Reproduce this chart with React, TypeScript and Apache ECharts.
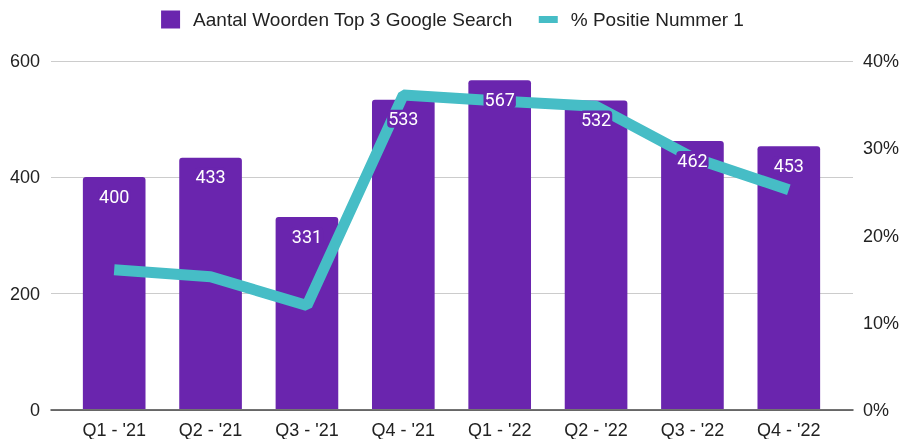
import React, { useEffect, useRef } from "react";
import * as echarts from "echarts";

const categories = ["Q1 - '21", "Q2 - '21", "Q3 - '21", "Q4 - '21", "Q1 - '22", "Q2 - '22", "Q3 - '22", "Q4 - '22"];
const woorden = [400, 433, 331, 533, 567, 532, 462, 453];
const positie1 = [16.0, 15.2, 11.9, 36.1, 35.4, 34.8, 28.9, 25.2];
const leftTicks = { min: 0, max: 600, interval: 200 };
const rightTicks = { min: 0, max: 40, interval: 10 };
const barName = "Aantal Woorden Top 3 Google Search";
const lineName = "% Positie Nummer 1";

const PURPLE = "#6a25ae";
const TEAL = "#46bdc6";
const FONT = "'Liberation Sans', Arial, sans-serif";
const LABEL_FONT = "Roboto";

export default function App() {
  const ref = useRef<HTMLDivElement>(null);
  useEffect(() => {
    if (!ref.current) return;
    const chart = echarts.init(ref.current, null, { renderer: "svg" });
    chart.setOption({
      animation: false,
      textStyle: { fontFamily: FONT },
      legend: {
        left: "center",
        top: 5,
        itemWidth: 19,
        itemHeight: 18,
        itemGap: 26,
        textStyle: { fontSize: 19, color: "#222", fontFamily: FONT, padding: [0, 0, 0, 8] },
        data: [
          { name: barName, icon: "rect" },
          { name: lineName, icon: "path://M0,0h19v7h-19z" },
        ],
      },
      grid: [
        { left: 51, right: 52, top: 61, bottom: 29 },
        { left: 66, right: 68, top: 61, bottom: 29 },
      ],
      xAxis: [
        {
          gridIndex: 0,
          type: "category",
          data: categories,
          axisLine: { show: true, lineStyle: { color: "#444", width: 1.5 } },
          axisTick: { show: false },
          axisLabel: { show: false },
        },
        {
          gridIndex: 1,
          type: "category",
          data: categories,
          axisLine: { show: false },
          axisTick: { show: false },
          axisLabel: { fontSize: 18, color: "#222", margin: 12, fontFamily: FONT },
        },
      ],
      yAxis: [
        {
          gridIndex: 0,
          type: "value",
          ...leftTicks,
          position: "left",
          axisLine: { show: false },
          axisTick: { show: false },
          axisLabel: { fontSize: 18, color: "#222", margin: 11, fontFamily: FONT },
          splitLine: { show: true, lineStyle: { color: "#cccccc", width: 1 } },
        },
        {
          gridIndex: 0,
          type: "value",
          ...rightTicks,
          position: "right",
          axisLine: { show: false },
          axisTick: { show: false },
          axisLabel: { fontSize: 18, color: "#222", margin: 10, formatter: "{value}%", fontFamily: FONT },
          splitLine: { show: false },
        },
        { gridIndex: 1, type: "value", ...leftTicks, show: false },
        { gridIndex: 1, type: "value", ...rightTicks, show: false },
      ],
      series: [
        {
          name: barName,
          type: "bar",
          xAxisIndex: 1,
          yAxisIndex: 2,
          data: woorden,
          barCategoryGap: "35%",
          barGap: "-100%",
          itemStyle: { color: PURPLE, borderRadius: [3, 3, 0, 0] },
          z: 2,
        },
        {
          name: lineName,
          type: "line",
          xAxisIndex: 1,
          yAxisIndex: 3,
          data: positie1,
          symbol: "none",
          lineStyle: { color: TEAL, width: 11 },
          itemStyle: { color: TEAL },
          z: 3,
        },
        {
          name: "labels",
          type: "bar",
          xAxisIndex: 1,
          yAxisIndex: 2,
          data: woorden,
          barCategoryGap: "35%",
          barGap: "-100%",
          silent: true,
          itemStyle: { color: "rgba(0,0,0,0)" },
          label: {
            show: true,
            position: "insideTop",
            distance: 10,
            fontSize: 18,
            color: "#ffffff",
            fontFamily: LABEL_FONT,
            backgroundColor: PURPLE,
            borderRadius: 4,
            padding: [0, 1],
          },
          z: 5,
        },
      ],
    });
    return () => chart.dispose();
  }, []);
  return <div ref={ref} style={{ position: "fixed", left: 0, top: 0, width: 905, height: 439 }} />;
}
